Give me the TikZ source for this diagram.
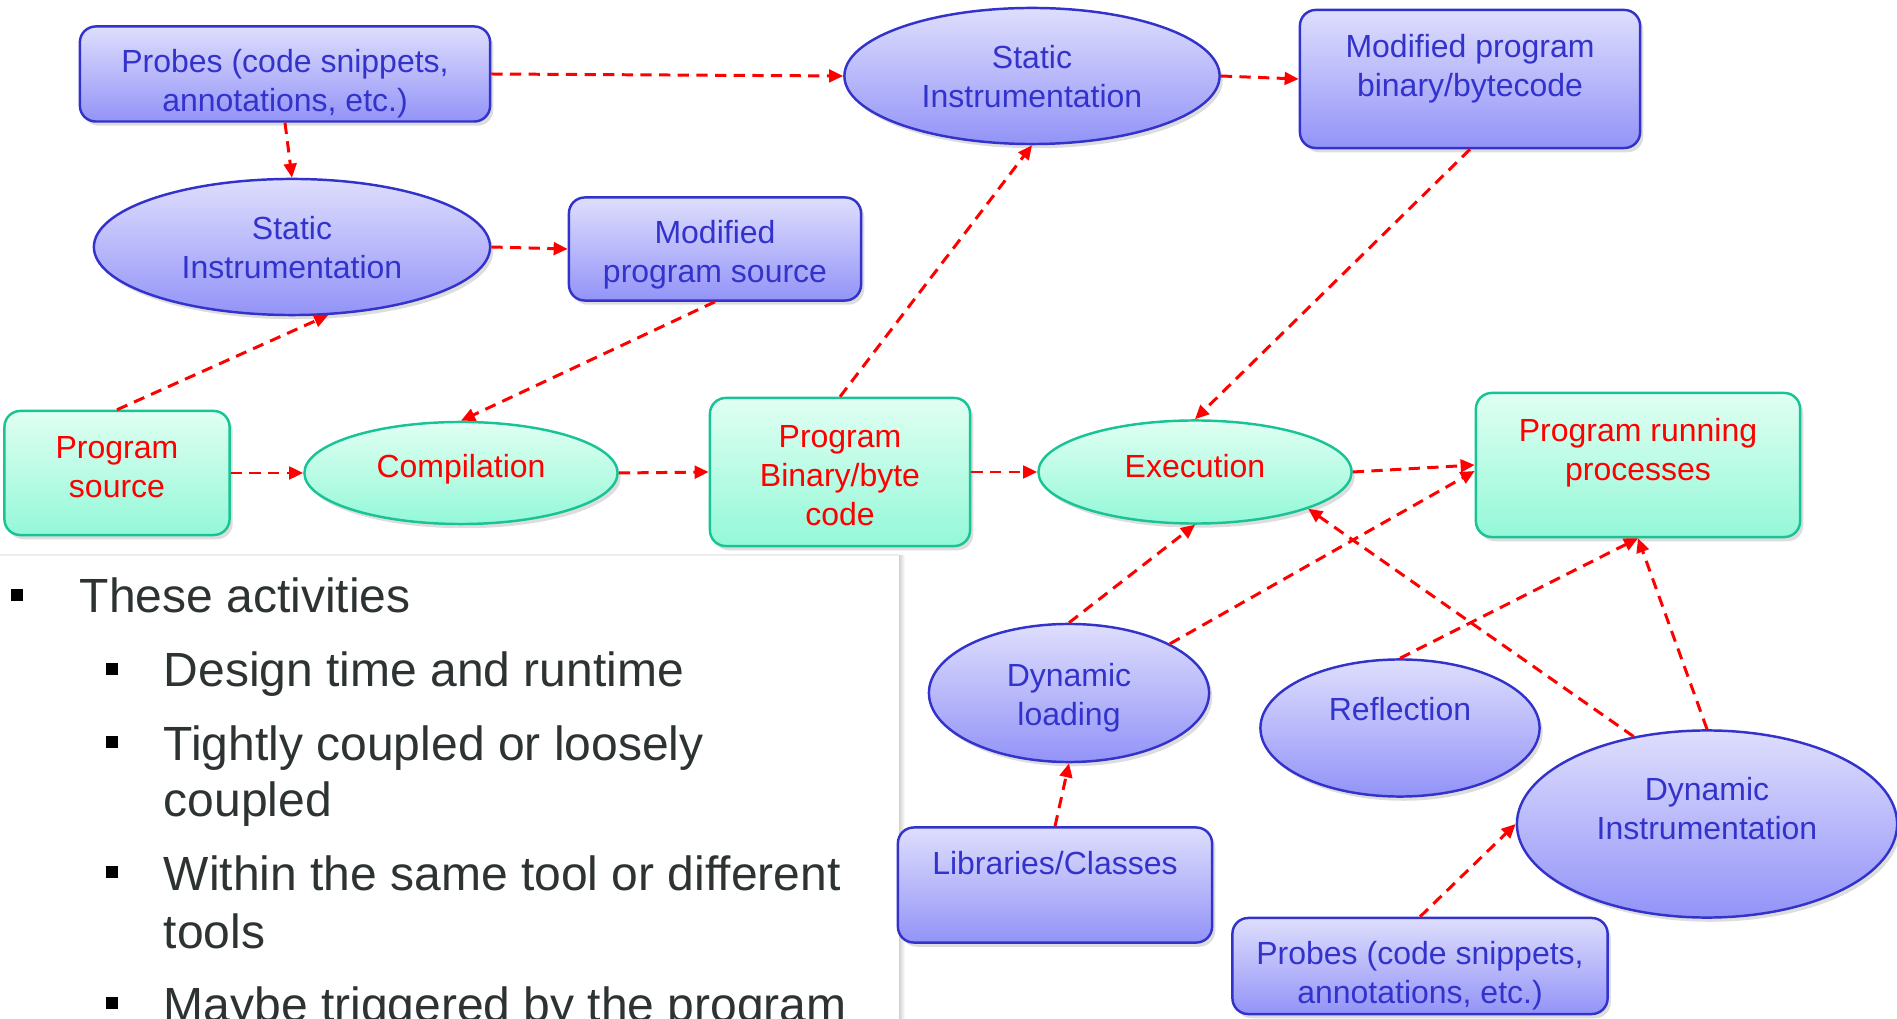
\documentclass[tikz,border=0pt]{standalone}
\usepackage{fontspec}
\setmainfont{Liberation Sans}
\usetikzlibrary{shapes,arrows.meta,positioning,calc,shadows}

\definecolor{blueTop}{HTML}{DEDEFD}
\definecolor{blueBot}{HTML}{9393F8}
\definecolor{blueLine}{HTML}{3333CC}
\definecolor{greenTop}{HTML}{E0FFF2}
\definecolor{greenBot}{HTML}{94F8D8}
\definecolor{greenLine}{HTML}{18C495}
\definecolor{flowRed}{HTML}{FF0000}
\definecolor{bulletText}{HTML}{2D3333}

\newcommand{\diagfont}{\fontsize{9.1}{11.1}\selectfont}
\newcommand{\bulfont}{\fontsize{13.65}{16.5}\selectfont}

\begin{document}
\begin{tikzpicture}[x=0.01cm, y=-0.01cm,
    blueshape/.style={draw=blueLine, line width=0.7pt, top color=blueTop, bottom color=blueBot,
        inner sep=0pt,
        drop shadow={shadow xshift=0.9pt, shadow yshift=-1.2pt, fill=black!60, opacity=0.22}},
    greenshape/.style={blueshape, draw=greenLine, top color=greenTop, bottom color=greenBot},
    roundbox/.style={rectangle, rounded corners=4.5pt},
    oval/.style={ellipse},
    bluetext/.style={text=blueLine, align=center, font=\diagfont},
    redtext/.style={text=flowRed, align=center, font=\diagfont},
    flow/.style={draw=flowRed, line width=0.85pt, dash pattern=on 3.2pt off 2.1pt,
        -{Triangle[length=4pt,width=3.6pt]}},
    bul/.style={fill=black, minimum size=0.125cm, inner sep=0pt},
    bultext/.style={anchor=base west, inner sep=0pt, text=bulletText, font=\bulfont}
]
    \useasboundingbox (0,0) rectangle (1897,1019);
    \clip (0,0) rectangle (1897,1019);

    % Text panel (lower left)
    \fill[white] (0,556) rectangle (899,1019);
    \draw[black!7, line width=0.8pt] (0,555) -- (899,555);
    \shade[left color=black!18, right color=white] (899,556) rectangle (905,1019);

    % Static instrumentation (binary)
    \node[blueshape, roundbox, minimum width=4.1cm, minimum height=0.95cm] (probesA) at (285,74) {};
    \node[bluetext] (probesAtext) at ([shift={(0,10)}]probesA.center) {Probes (code snippets,\\annotations, etc.)};
    \node[blueshape, oval, minimum width=3.75cm, minimum height=1.36cm] (staticB) at (1032,76) {};
    \node[bluetext] (staticBtext) at ([shift={(0,1)}]staticB.center) {Static\\Instrumentation};
    \node[blueshape, roundbox, minimum width=3.4cm, minimum height=1.38cm] (modbin) at (1470,79) {};
    \node[bluetext] (modbintext) at ([shift={(0,-10)}]modbin.center) {Modified program\\binary/bytecode};

    % Static instrumentation (source)
    \node[blueshape, oval, minimum width=3.96cm, minimum height=1.36cm] (staticA) at (292,247) {};
    \node[bluetext] (staticAtext) at ([shift={(0,1)}]staticA.center) {Static\\Instrumentation};
    \node[blueshape, roundbox, minimum width=2.92cm, minimum height=1.03cm] (modsrc) at (715,249) {};
    \node[bluetext] (modsrctext) at ([shift={(0,6)}]modsrc.center) {Modified\\program source};

    % Build and run
    \node[greenshape, roundbox, minimum width=2.25cm, minimum height=1.24cm] (progsrc) at (117,473) {};
    \node[redtext] (progsrctext) at ([shift={(0,-6)}]progsrc.center) {Program\\source};
    \node[greenshape, oval, minimum width=3.13cm, minimum height=1.02cm] (compile) at (461,473) {};
    \node[redtext] (compiletext) at ([shift={(0,-4)}]compile.center) {Compilation};
    \node[greenshape, roundbox, minimum width=2.6cm, minimum height=1.48cm] (progbin) at (840,472) {};
    \node[redtext] (progbintext) at ([shift={(0,4)}]progbin.center) {Program\\Binary/byte\\code};
    \node[greenshape, oval, minimum width=3.13cm, minimum height=1.03cm] (exec) at (1195,472) {};
    \node[redtext] (exectext) at ([shift={(0,-6)}]exec.center) {Execution};
    \node[greenshape, roundbox, minimum width=3.24cm, minimum height=1.44cm] (running) at (1638,465) {};
    \node[redtext] (runningtext) at ([shift={(0,-12)}]running.center) {Program running\\processes};

    % Dynamic side
    \node[blueshape, oval, minimum width=2.8cm, minimum height=1.38cm] (dynload) at (1069,693) {};
    \node[bluetext] (dynloadtext) at ([shift={(0,5)}]dynload.center) {Dynamic\\loading};
    \node[blueshape, oval, minimum width=2.79cm, minimum height=1.37cm] (reflect) at (1400,728) {};
    \node[bluetext] (reflecttext) at ([shift={(0,-19)}]reflect.center) {Reflection};
    \node[blueshape, oval, minimum width=3.8cm, minimum height=1.87cm] (dyninstr) at (1707,824) {};
    \node[bluetext] (dyninstrtext) at ([shift={(0,-15)}]dyninstr.center) {Dynamic\\Instrumentation};
    \node[blueshape, roundbox, minimum width=3.14cm, minimum height=1.15cm] (libs) at (1055,885) {};
    \node[bluetext] (libstext) at ([shift={(0,-22)}]libs.center) {Libraries/Classes};
    \node[blueshape, roundbox, minimum width=3.75cm, minimum height=0.96cm] (probesB) at (1420,966) {};
    \node[bluetext] (probesBtext) at ([shift={(0,10)}]probesB.center) {Probes (code snippets,\\annotations, etc.)};

    % Flows
    \draw[flow] (probesA.east) -- (staticB.west);
    \draw[flow] (probesA.south) -- (staticA.north);
    \draw[flow] (staticA.east) -- (modsrc.west);
    \draw[flow] (progsrc.north) -- (staticA.-62);
    \draw[flow] (modsrc.south) -- (compile.north);
    \draw[flow] (progsrc.east) -- (compile.west);
    \draw[flow] (compile.east) -- (progbin.west);
    \draw[flow] (progbin.north) -- (staticB.south);
    \draw[flow] (staticB.east) -- (modbin.west);
    \draw[flow] (modbin.south) -- (exec.north);
    \draw[flow] (progbin.east) -- (exec.west);
    \draw[flow] (exec.east) -- (running.west);
    \draw[flow] (dynload.north) -- (exec.south);
    \draw[flow] (dynload.26) -- ([shift={(0,6)}]running.west);
    \draw[flow] (dyninstr.130) -- (exec.-18);
    \draw[flow] (reflect.north) -- (running.south);
    \draw[flow] (dyninstr.north) -- (running.south);
    \draw[flow] (libs.north) -- (dynload.south);
    \draw[flow] (probesB.north) -- (dyninstr.west);

    % Bullet list
    \node[bul] (bulA) at (17,595) {};
    \node[bultext] (itemA) at (79,613) {These activities};
    \node[bul] (bulB) at (112,669) {};
    \node[bultext] (itemB) at (163,687) {Design time and runtime};
    \node[bul] (bulC) at (112,742) {};
    \node[bultext] (itemC) at (163,760) {Tightly coupled or loosely};
    \node[bultext] (itemCc) at (163,817) {coupled};
    \node[bul] (bulD) at (112,872) {};
    \node[bultext] (itemD) at (163,890) {Within the same tool or different};
    \node[bultext] (itemDd) at (163,948) {tools};
    \node[bul] (bulE) at (112,1003) {};
    \node[bultext] (itemE) at (163,1021) {Maybe triggered by the program};
\end{tikzpicture}
\end{document}
